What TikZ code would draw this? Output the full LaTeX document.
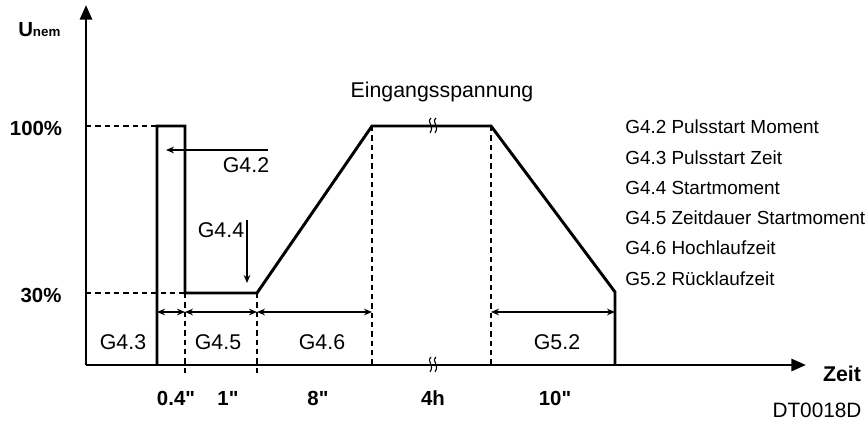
\documentclass[tikz,border=0pt]{standalone}
\usepackage{fontspec}
\newfontfamily\af{Liberation Sans}
\usetikzlibrary{arrows.meta}
\begin{document}
\begin{tikzpicture}[x=0.75pt,y=-0.75pt,
  thickline/.style={line width=2.2pt,line join=miter},
  dashline/.style={line width=1pt,dash pattern=on 4pt off 3pt},
  dimarrow/.style={line width=1.1pt,{Stealth[length=6pt,width=5pt]}-{Stealth[length=6pt,width=5pt]}},
  callout/.style={line width=1.1pt,-{Stealth[length=6pt,width=5pt]}},
  axis/.style={line width=2.2pt,-{Triangle[length=11pt,width=9pt]}},
  lbl/.style={font=\af\fontsize{16pt}{18pt}\selectfont,inner sep=0pt},
  blbl/.style={font=\af\fontsize{15.3pt}{17pt}\selectfont\bfseries,inner sep=0pt},
  legend/.style={font=\af\fontsize{14.2pt}{16pt}\selectfont,inner sep=0pt,anchor=west},
  brk/.style={line width=0.8pt}]
\useasboundingbox (0,0) rectangle (866,424);
% key coordinates
\coordinate (O) at (86,365);
\coordinate (ytop) at (86,5);
\coordinate (xend) at (806,365);
\coordinate (p1b) at (157,365);
\coordinate (p1t) at (157,126);
\coordinate (p2t) at (185,126);
\coordinate (p2m) at (185,293);
\coordinate (s1) at (257,293);
\coordinate (r1) at (372,126);
\coordinate (r2) at (491,126);
\coordinate (f1) at (615,292);
\coordinate (f1b) at (615,365);
% axes
\draw[axis] (O) -- (ytop);
\draw[axis] (O) -- (xend);
% curve
\draw[thickline] (p1b) -- (p1t) -- (p2t) -- (p2m) -- (s1) -- (r1) -- (r2) -- (f1) -- (f1b);
% dashed helper lines
\draw[dashline] (86,126) -- (p1t);
\draw[dashline] (86,293) -- (p2m);
\draw[dashline] (p2m) -- (185,374);
\draw[dashline] (s1) -- (257,374);
\draw[dashline] (r1) -- (372,365);
\draw[dashline] (r2) -- (491,365);
% dimension arrows
\coordinate (d1) at (157,312);
\coordinate (d2) at (185,312);
\coordinate (d3) at (257,312);
\coordinate (d4) at (372,312);
\coordinate (d5) at (491,312);
\coordinate (d6) at (615,312);
\draw[dimarrow] (d1) -- (d2);
\draw[dimarrow] (d2) -- (d3);
\draw[dimarrow] (d3) -- (d4);
\draw[dimarrow] (d5) -- (d6);
% callouts
\coordinate (c42a) at (268,150);
\coordinate (c42b) at (166,150);
\draw[callout] (c42a) -- (c42b);
\coordinate (c44a) at (247,220);
\coordinate (c44b) at (247,283);
\draw[callout] (c44a) -- (c44b);
% break marks
\foreach \bx/\by in {434/126,434/365}{
  \draw[brk] (\bx-3,\by-8) .. controls (\bx-8,\by-3) and (\bx+1,\by-1) .. (\bx-4,\by+7);
  \draw[brk] (\bx+2,\by-8) .. controls (\bx-3,\by-3) and (\bx+6,\by-1) .. (\bx+1,\by+7);
}
% labels
\node[anchor=base west,inner sep=0pt,font=\af\fontsize{15.3pt}{17pt}\selectfont\bfseries] (U) at (18,37) {U\fontsize{10pt}{11pt}\selectfont nem};
\node[blbl] (L100) at (36,128) {100\%};
\node[blbl] (L30) at (41,295) {30\%};
\node[lbl] (G42) at (246,165) {G4.2};
\node[lbl] (G44) at (221,230) {G4.4};
\node[lbl] (G43) at (123,342) {G4.3};
\node[lbl] (G45) at (218,342) {G4.5};
\node[lbl] (G46) at (322,342) {G4.6};
\node[lbl] (G52) at (557,342) {G5.2};
\node[lbl] (Ein) at (442,92) {Eingangsspannung};
\node[blbl] (t1) at (176,398) {0.4"};
\node[blbl] (t2) at (228,398) {1"};
\node[blbl] (t3) at (318,398) {8"};
\node[blbl] (t4) at (433,398) {4h};
\node[blbl] (t5) at (555,398) {10"};
\node[font=\af\fontsize{16pt}{18pt}\selectfont\bfseries,inner sep=0pt] (zeit) at (842,374) {Zeit};
\node[lbl,font=\af\fontsize{15.6pt}{18pt}\selectfont] (dt) at (817,410) {DT0018D};
% legend
\node[legend] (lg1) at (625,127) {G4.2 Pulsstart Moment};
\node[legend] (lg2) at (625,158) {G4.3 Pulsstart Zeit};
\node[legend] (lg3) at (625,188) {G4.4 Startmoment};
\node[legend] (lg4) at (625,218) {G4.5 Zeitdauer Startmoment};
\node[legend] (lg5) at (625,248) {G4.6 Hochlaufzeit};
\node[legend] (lg6) at (625,279) {G5.2 Rücklaufzeit};
\end{tikzpicture}
\end{document}
